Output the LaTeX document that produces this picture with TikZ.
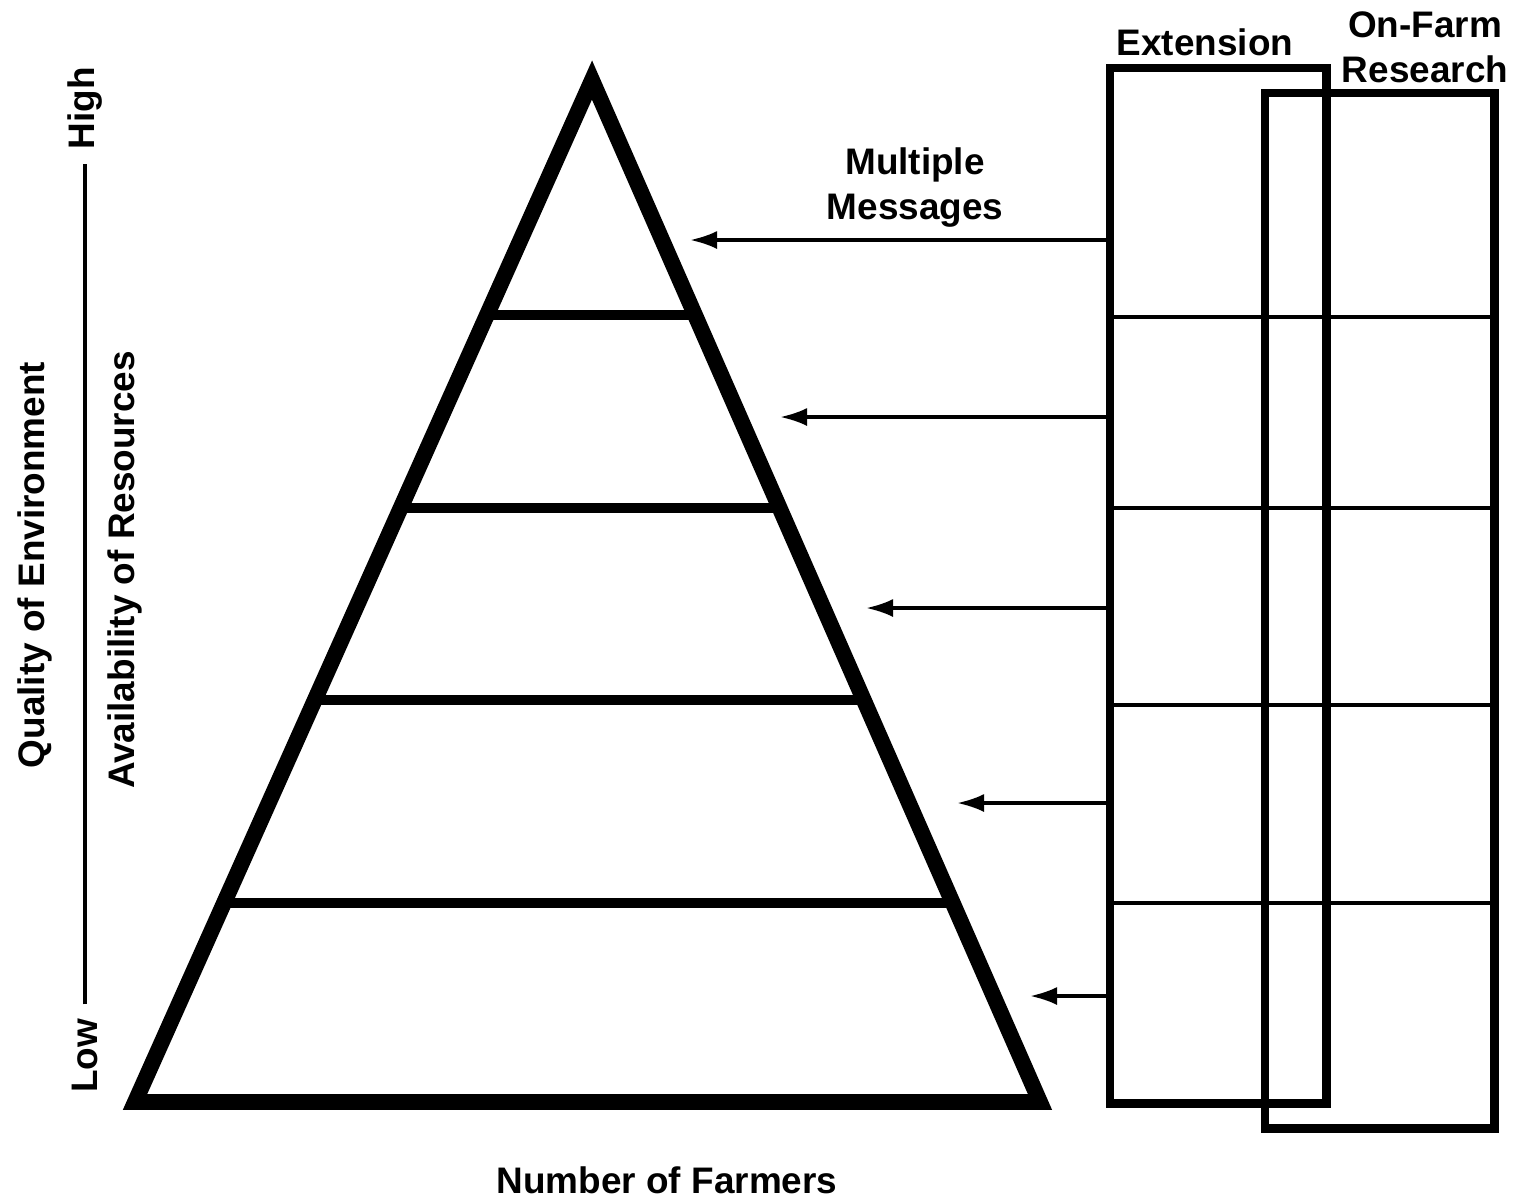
\documentclass[tikz,border=0pt]{standalone}
\usepackage{fontspec}
\setsansfont{Liberation Sans}
\usepackage{tikz}
\usetikzlibrary{arrows.meta,positioning,calc}
\tikzset{lbl/.style={font=\sffamily\bfseries\fontsize{10.5}{12.8}\selectfont,align=center,inner sep=0pt},tri/.style={line width=4.5pt,line join=miter},band/.style={line width=2.8pt},panel/.style={draw,line width=2.5pt,inner sep=0pt,outer sep=0pt,anchor=north west},rung/.style={line width=1.3pt},msg/.style={-{Latex[length=0.27cm,width=0.18cm]},line width=1pt},axis/.style={line width=1.1pt,shorten <=4pt,shorten >=4pt}}

\begin{document}
\begin{tikzpicture}[x=0.01cm,y=-0.01cm]
\useasboundingbox (0,0) rectangle (1525,1202);
% pyramid of farmers
\coordinate (apex) at (592,80);
\coordinate (bl) at (135,1102);
\coordinate (br) at (1040,1102);
\draw[tri] (apex)--(bl)--(br)--cycle;
\foreach \t in {0.23,0.419,0.607,0.805}
  \draw[band] ($(apex)!\t!(bl)$)--($(apex)!\t!(br)$);
% extension and on-farm research
\node[panel,minimum width=2.16cm,minimum height=10.35cm] (ext) at (1110,68) {};
\node[panel,minimum width=2.29cm,minimum height=10.35cm] (ofr) at (1265,93) {};
\foreach \y in {317,508,705,903}
  \draw[rung] (ext.west |- 0,\y)--(ofr.east |- 0,\y);
\node[lbl] (extlbl) at (1205,42) {Extension};
\node[lbl] (ofrlbl) at (1425,47) {On-Farm\\Research};
% messages
\node[lbl] (mm) at (915,188) {Multiple\\Messages};
\foreach \x/\y [count=\i] in {690/240,780/417,866/608,957/803,1030/996}{
  \coordinate (m\i) at (\x,\y);
  \draw[msg] (ext.west |- m\i)--(m\i);
}
% axes
\node[lbl,rotate=90] (high) at (85,108) {High};
\node[lbl,rotate=90] (low) at (85,1056) {Low};
\draw[axis] (low)--(high);
\node[lbl,rotate=90] (qual) at (35,565) {Quality of Environment};
\node[lbl,rotate=90] (avail) at (125,570) {Availability of Resources};
\node[lbl] (farmers) at (667,1180) {Number of Farmers};
\end{tikzpicture}
\end{document}
